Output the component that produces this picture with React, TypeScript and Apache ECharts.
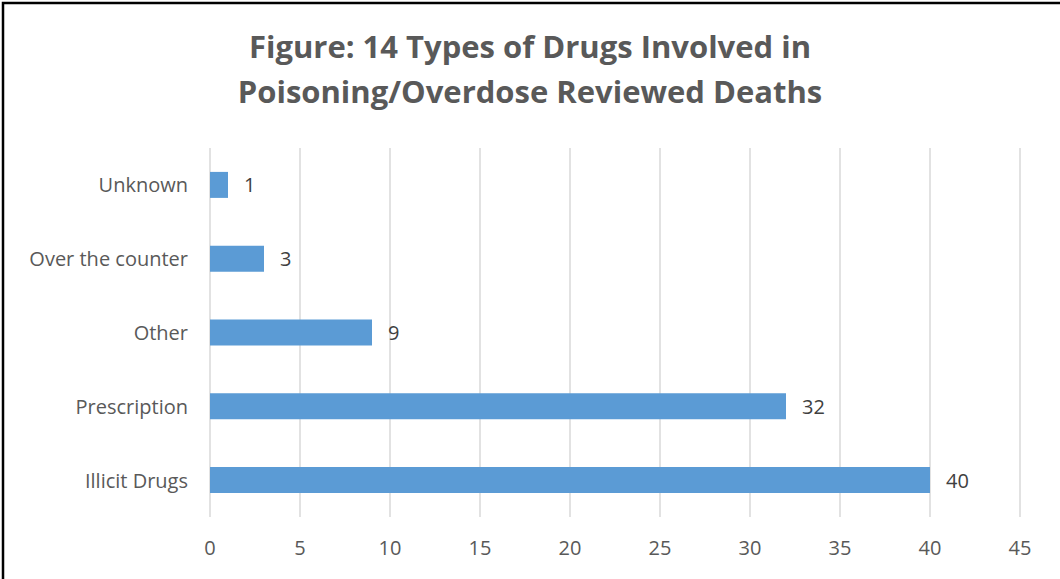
import React, { useEffect, useRef } from "react";
import * as echarts from "echarts";

const categories = ["Illicit Drugs", "Prescription", "Other", "Over the counter", "Unknown"];
const values = [40, 32, 9, 3, 1];
const titleLines = ["Figure: 14 Types of Drugs Involved in", "Poisoning/Overdose Reviewed Deaths"];
const xMin = 0;
const xMax = 45;
const xInterval = 5;

export default function App() {
  const ref = useRef<HTMLDivElement>(null);
  useEffect(() => {
    document.body.style.margin = "0";
    const chart = echarts.init(ref.current!, null, { renderer: "svg" });
    const font = "Open Sans";
    chart.setOption({
      animation: false,
      backgroundColor: "#ffffff",
      title: {
        text: titleLines.join("\n"),
        left: "center",
        top: 18,
        textStyle: {
          fontFamily: font,
          fontWeight: "bold",
          fontSize: 31,
          lineHeight: 45,
          color: "#595959",
        },
      },
      graphic: [
        {
          type: "polyline",
          shape: { points: [[3, 600], [3, 3], [1070, 3]] },
          style: { stroke: "#000000", lineWidth: 2.5, fill: "none" },
          silent: true,
        },
      ],
      grid: { left: 210, right: 40, top: 148, bottom: 62, containLabel: false },
      xAxis: {
        type: "value",
        min: xMin,
        max: xMax,
        interval: xInterval,
        axisLine: { show: false },
        axisTick: { show: false },
        axisLabel: { fontFamily: font, fontSize: 20, color: "#595959", margin: 20 },
        splitLine: { lineStyle: { color: "#D9D9D9", width: 1.5 } },
      },
      yAxis: {
        type: "category",
        data: categories,
        axisLine: { show: false },
        axisTick: { show: false },
        axisLabel: { fontFamily: font, fontSize: 20, color: "#595959", margin: 22 },
        splitLine: { show: false },
      },
      series: [
        {
          type: "bar",
          data: values,
          barWidth: 26,
          itemStyle: { color: "#5B9BD5" },
          label: {
            show: true,
            position: "right",
            distance: 16,
            fontFamily: font,
            fontSize: 20,
            color: "#404040",
          },
        },
      ],
    });
    return () => chart.dispose();
  }, []);
  return <div ref={ref} style={{ width: 1060, height: 579 }} />;
}
